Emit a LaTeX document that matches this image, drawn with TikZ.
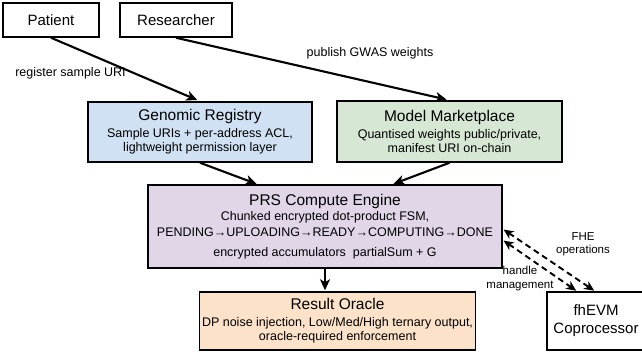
\documentclass[tikz,border=0pt]{standalone}
\usepackage{fontspec}
\setmainfont{Liberation Sans}
\usetikzlibrary{arrows.meta, positioning, calc}

\definecolor{regblue}{RGB}{207, 225, 242}
\definecolor{mktgreen}{RGB}{214, 232, 212}
\definecolor{prspurple}{RGB}{225, 213, 232}
\definecolor{oracleorange}{RGB}{252, 226, 201}

\tikzset{
  actor/.style={draw, line width=1.5pt, minimum height=34pt, font=\fontsize{15}{18}\selectfont},
  module/.style={draw, line width=1.5pt, align=center, inner sep=2pt, font=\fontsize{12.5}{14}\selectfont},
  flow/.style={-{Stealth[length=11pt, width=10pt, inset=3pt]}, line width=2.1pt, shorten >=3pt},
  fhe/.style={{Stealth[length=10pt, width=9pt, inset=3pt]}-{Stealth[length=10pt, width=9pt, inset=3pt]}, line width=1.9pt, dash pattern=on 6pt off 4pt, shorten <=1pt, shorten >=1pt},
  lbl/.style={font=\fontsize{12.5}{14}\selectfont},
  smalllbl/.style={align=center, font=\fontsize{11.5}{13.5}\selectfont},
}
\newcommand{\boxtitle}[1]{{\fontsize{15.5}{18}\selectfont #1}}

\begin{document}
\begin{tikzpicture}[x=1pt, y=-1pt]
  \useasboundingbox (0, 0) rectangle (642, 356);

  % actors
  \node[actor, minimum width=96pt] (patient) at (51, 20) {Patient};
  \node[actor, minimum width=112pt] (researcher) at (176, 20) {Researcher};

  % contract modules
  \node[module, fill=regblue, minimum width=224pt, minimum height=60pt] (registry) at (200, 132)
    {\boxtitle{Genomic Registry}\\[3pt] Sample URIs + per-address ACL,\\ lightweight permission layer};
  \node[module, fill=mktgreen, minimum width=225pt, minimum height=61pt] (market) at (449.5, 131.5)
    {\boxtitle{Model Marketplace}\\[3pt] Quantised weights public/private,\\ manifest URI on-chain};
  \node[module, fill=prspurple, minimum width=354pt, minimum height=83pt] (prs) at (325, 226.5)
    {\boxtitle{PRS Compute Engine}\\[1pt] Chunked encrypted dot-product FSM,\\[2pt]
     PENDING→UPLOADING→READY→COMPUTING→DONE\\[6pt] encrypted accumulators~ partialSum + G};
  \node[module, fill=oracleorange, minimum width=276pt, minimum height=58pt] (oracle) at (337.5, 321)
    {\boxtitle{Result Oracle}\\[3pt] DP noise injection, Low/Med/High ternary output,\\ oracle-required enforcement};
  \node[module, minimum width=98pt, minimum height=58pt, font=\fontsize{15}{18}\selectfont] (fhevm) at (596, 321)
    {fhEVM\\ Coprocessor};

  % submissions
  \draw[flow] (patient.south) -- (registry.north);
  \draw[flow] (researcher.south) -- (market.north);
  \node[lbl] (reglbl) at (70.5, 73) {register sample URI};
  \node[lbl] (publbl) at (370, 53) {publish GWAS weights};

  % into the engine and out
  \coordinate (prsin1) at ($(prs.north west)!0.31!(prs.north east)$);
  \coordinate (prsin2) at ($(prs.north west)!0.69!(prs.north east)$);
  \draw[flow, shorten >=1pt] (registry.south) -- (prsin1);
  \draw[flow, shorten >=1pt] (market.south) -- (prsin2);
  \draw[flow, shorten >=1pt] (prs.south) -- (prs.south |- oracle.north);

  % coprocessor traffic
  \draw[fhe] ([yshift=-2.5pt]prs.east) -- ([xshift=-1pt]fhevm.north);
  \draw[fhe] ([yshift=-13.5pt]prs.east) -- ([xshift=-19pt]fhevm.north);
  \node[smalllbl] (opslbl) at (583, 244) {FHE\\ operations};
  \node[smalllbl] (hdllbl) at (520, 278.5) {handle\\ management};
\end{tikzpicture}
\end{document}
